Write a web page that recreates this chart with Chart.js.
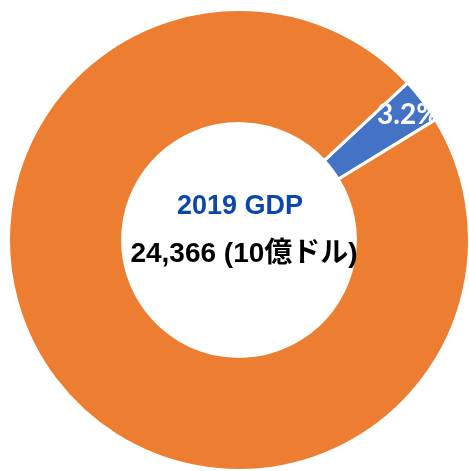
<!DOCTYPE html>
<html lang="ja">
<head>
<meta charset="utf-8">
<title>2019 GDP</title>
<script src="https://cdn.jsdelivr.net/npm/chart.js@4.4.1/dist/chart.umd.min.js"></script>
<style>
    html, body { margin: 0; padding: 0; background: #ffffff; }
    canvas { display: block; }
</style>
</head>
<body>
<canvas id="gdpGraf" width="469" height="471"></canvas>
<script>
// andeler av GDP 2019 (prosent)
const kategorier = ['日本', 'その他'];
const andeler = [3.2, 96.8];
const etiketter = ['3.2%', ''];
const farger = ['#4472c4', '#ed7d31'];

const tittel = '2019 GDP';
const totalTekst = '24,366 (10億ドル)';

// tegner prosent-etiketten i biten; klippes bare der neste bit begynner
const etikettPlugin = {
    id: 'etiketter',
    afterDatasetsDraw(chart) {
        const ctx = chart.ctx;
        const meta = chart.getDatasetMeta(0);
        meta.data.forEach(function (arc, i) {
            if (!etiketter[i]) return;
            const p = arc.getProps(['x', 'y', 'startAngle', 'endAngle', 'innerRadius', 'outerRadius']);
            const mid = (p.startAngle + p.endAngle) / 2;
            const r = p.innerRadius + (p.outerRadius - p.innerRadius) * 0.82;
            const kant = 1.5;
            const da = kant / r;

            ctx.save();
            ctx.beginPath();
            ctx.moveTo(p.x, p.y);
            ctx.arc(p.x, p.y, p.outerRadius - kant, p.startAngle - 0.6, p.endAngle - da);
            ctx.closePath();
            ctx.clip();

            ctx.fillStyle = '#ffffff';
            ctx.font = 'bold 28px Lato, "Open Sans", sans-serif';
            ctx.textAlign = 'center';
            ctx.textBaseline = 'middle';
            ctx.fillText(etiketter[i], p.x + Math.cos(mid) * r + 2, p.y + Math.sin(mid) * r + 2);
            ctx.restore();
        });
    }
};

// tekst i midten av ringen
const midtPlugin = {
    id: 'midtTekst',
    afterDraw(chart) {
        const ctx = chart.ctx;
        const arc = chart.getDatasetMeta(0).data[0];
        const cx = arc.x;
        const cy = arc.y;

        ctx.save();
        ctx.textAlign = 'center';
        ctx.textBaseline = 'middle';
        ctx.font = 'bold 27px "Liberation Sans", Arial, sans-serif';
        ctx.fillStyle = '#0b47ab';
        ctx.fillText(tittel, cx + 1, cy - 33);

        ctx.font = 'bold 28px "Liberation Sans", Arial, "Noto Sans CJK JP", sans-serif';
        ctx.fillStyle = '#000000';
        ctx.fillText(totalTekst, cx + 5, cy + 14);
        ctx.restore();
    }
};

document.addEventListener('DOMContentLoaded', function () {
    const canvas = document.getElementById('gdpGraf');
    if (!canvas) return;

    const ctx = canvas.getContext('2d');

    new Chart(ctx, {
        type: 'doughnut',
        data: {
            labels: kategorier,
            datasets: [{
                data: andeler,
                backgroundColor: farger,
                borderColor: '#ffffff',
                borderWidth: 3
            }]
        },
        options: {
            responsive: false,
            animation: false,
            rotation: 47,
            radius: 230.5,
            cutout: '50.5%',
            layout: {
                padding: { left: 10, right: 1, top: 10, bottom: 1 }
            },
            plugins: {
                legend: { display: false },
                tooltip: { enabled: false }
            }
        },
        plugins: [etikettPlugin, midtPlugin]
    });
});
</script>
</body>
</html>
